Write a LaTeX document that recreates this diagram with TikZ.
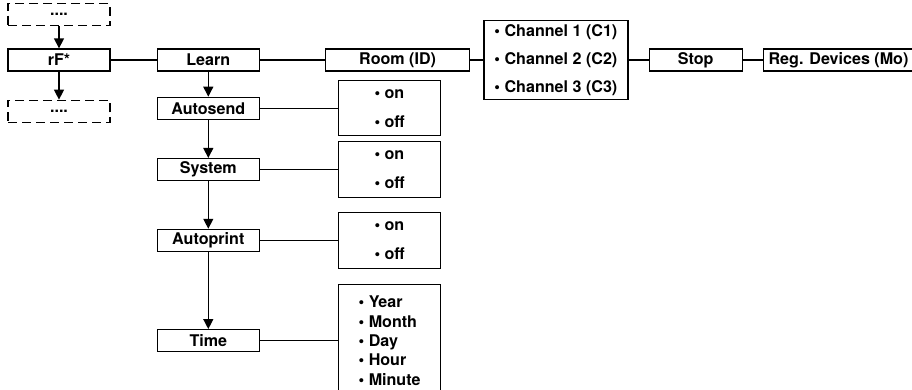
\documentclass[tikz,border=0pt]{standalone}
\usepackage{fontspec}
\setmainfont{TeX Gyre Heros}
\usetikzlibrary{positioning, arrows.meta}

\begin{document}
\begin{tikzpicture}[
  x=1pt, y=-1pt,
  line width=1.3pt,
  font=\fontsize{16.1}{19.3}\selectfont\bfseries,
  menubox/.style={
    draw,
    rectangle,
    inner sep=0pt,
    minimum width=#1,
    minimum height=22pt
    },
  dashbox/.style={menubox=102pt, dash pattern=on 9pt off 5pt},
  listbox/.style={
    draw,
    rectangle,
    align=left,
    inner sep=0pt,
    minimum width=102pt,
    minimum height=#1
    },
  arr/.style={-{Triangle[width=10pt,length=10pt]}}
]

\clip (0,0) rectangle (912,389);

% main row
\node[menubox=102pt] (rf) at (59,60) {rF*};
\node[dashbox, above=22pt of rf] (dotsup) {....};
\node[dashbox, below=28pt of rf] (dotsdown) {....};

\node[menubox=102pt, right=46pt of rf] (learn) {Learn};
\node[menubox=144pt, right=65pt of learn] (room) {Room (ID)};
\node[listbox=79pt, minimum width=144pt, right=13pt of room] (channels)
  {\textbullet\ Channel 1 (C1)\\[8.7pt]
   \textbullet\ Channel 2 (C2)\\[8.7pt]
   \textbullet\ Channel 3 (C3)};
\node[menubox=93pt, right=20pt of channels] (stop) {Stop};
\node[menubox=150pt, right=20pt of stop] (regdev) {Reg. Devices (Mo)};

% column below Learn
\node[menubox=102pt, below=25pt of learn] (autosend) {Autosend};
\node[menubox=102pt, below=38pt of autosend] (system) {System};
\node[menubox=102pt, below=47.5pt of system] (autoprint) {Autoprint};
\node[menubox=102pt, below=77pt of autoprint] (time) {Time};

% option boxes
\node[listbox=55pt, right=78pt of autosend] (sendopt)
  {\textbullet\ on\\[9.7pt]\textbullet\ off};
\node[listbox=56pt, right=78pt of system] (sysopt)
  {\textbullet\ on\\[9.7pt]\textbullet\ off};
\node[listbox=56pt, right=78pt of autoprint] (printopt)
  {\textbullet\ on\\[9.7pt]\textbullet\ off};
\node[listbox=113pt, right=78pt of time] (timeopt)
  {\textbullet\ Year\\\textbullet\ Month\\\textbullet\ Day\\
   \textbullet\ Hour\\\textbullet\ Minute};

% connectors
\draw[arr] (dotsup) -- (rf);
\draw[arr] (rf) -- (dotsdown);
\draw (rf) -- (learn);
\draw (learn) -- (room);
\draw (room) -- (channels);
\draw (channels) -- (stop);
\draw (stop) -- (regdev);

\draw[arr] (learn) -- (autosend);
\draw[arr] (autosend) -- (system);
\draw[arr] (system) -- (autoprint);
\draw[arr] (autoprint) -- (time);

\draw (autosend) -- (sendopt);
\draw (system) -- (sysopt);
\draw (autoprint) -- (printopt);
\draw (time) -- (timeopt);

\end{tikzpicture}
\end{document}
